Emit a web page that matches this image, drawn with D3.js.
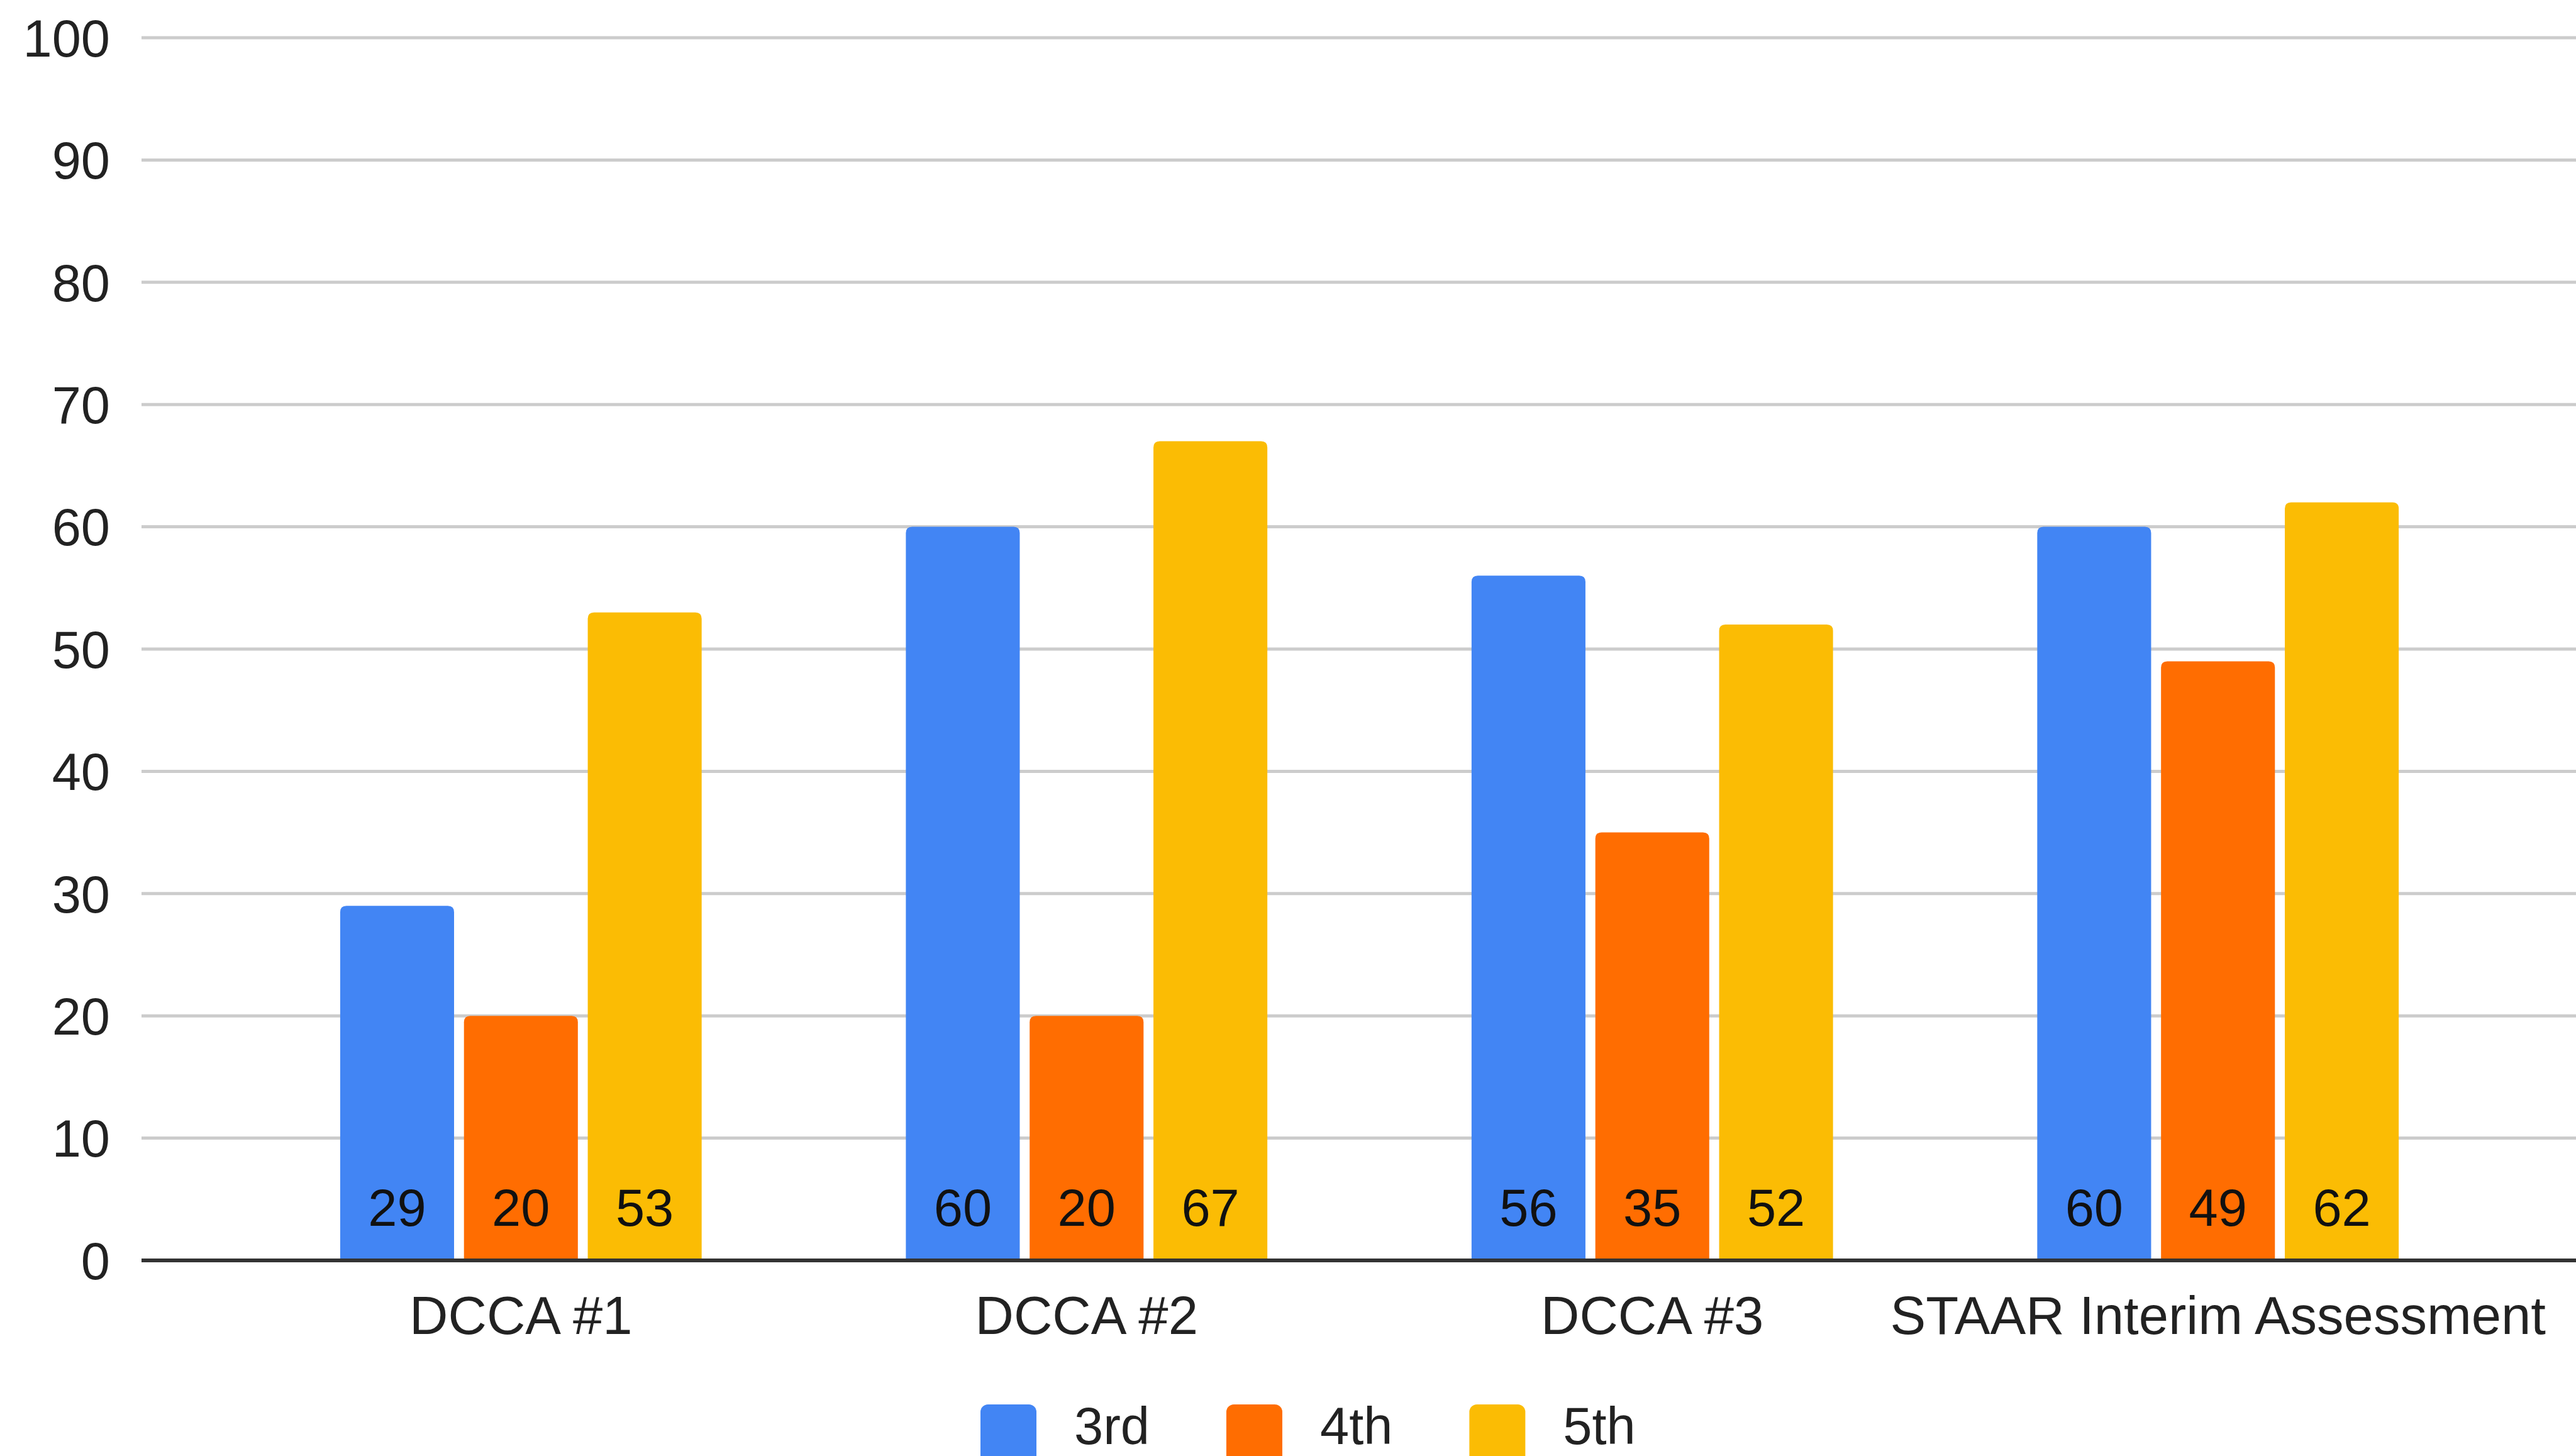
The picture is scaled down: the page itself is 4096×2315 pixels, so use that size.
<!DOCTYPE html>
<html>
<head>
<meta charset="utf-8">
<script src="https://cdn.jsdelivr.net/npm/d3@7"></script>
<style>
  html, body { margin: 0; padding: 0; background: #fff; }
  svg { display: block; }
  text { font-family: "Liberation Sans", Arial, sans-serif; fill: #222; }
</style>
</head>
<body>
<svg id="chart"></svg>
<script>
// Data
const assessments = ["DCCA #1", "DCCA #2", "DCCA #3", "STAAR Interim Assessment"];
const grades = ["3rd", "4th", "5th"];
const grade3 = [29, 60, 56, 60];
const grade4 = [20, 20, 35, 49];
const grade5 = [53, 67, 52, 62];
const yTicks = [0, 10, 20, 30, 40, 50, 60, 70, 80, 90, 100];
const gradeColors = ["#4285f4", "#ff6d01", "#fbbc04"];

const width = 4096;
const height = 2315;
const fontSize = 83;

const svg = d3.select('#chart')
    .attr('width', width)
    .attr('height', height);

const plotLeft = 225;
const plotRight = width;

const y = d3.scaleLinear()
    .domain([0, 100])
    .range([2004, 60]);

const x0 = d3.scaleBand()
    .domain(assessments)
    .range([379, 3976])
    .paddingInner(0.361)
    .paddingOuter(0.18);

const x1 = d3.scaleBand()
    .domain(grades)
    .range([0, x0.bandwidth()])
    .paddingInner(0.08)
    .paddingOuter(0);

const color = d3.scaleOrdinal().domain(grades).range(gradeColors);

const series = [grade3, grade4, grade5];
const rows = [];
assessments.forEach((a, i) => {
    grades.forEach((g, j) => {
        rows.push({ assessment: a, grade: g, value: series[j][i] });
    });
});

// Gridlines
svg.append('g')
    .selectAll('line')
    .data(yTicks.filter(d => d !== 0))
    .join('line')
    .attr('x1', plotLeft)
    .attr('x2', plotRight)
    .attr('y1', d => y(d))
    .attr('y2', d => y(d))
    .attr('stroke', '#cccccc')
    .attr('stroke-width', 5);

// Y tick labels
svg.append('g')
    .selectAll('text')
    .data(yTicks)
    .join('text')
    .attr('x', 175)
    .attr('y', d => y(d))
    .attr('dy', '0.36em')
    .attr('text-anchor', 'end')
    .style('font-size', fontSize + 'px')
    .text(d => d);

// Bars with rounded top corners
function barPath(x, yTop, w, h, r) {
    r = Math.min(r, w / 2, h);
    return `M${x},${yTop + h}V${yTop + r}Q${x},${yTop} ${x + r},${yTop}` +
        `H${x + w - r}Q${x + w},${yTop} ${x + w},${yTop + r}V${yTop + h}Z`;
}

svg.append('g')
    .selectAll('path')
    .data(rows)
    .join('path')
    .attr('fill', d => color(d.grade))
    .attr('d', d => {
        const bx = x0(d.assessment) + x1(d.grade);
        return barPath(bx, y(d.value), x1.bandwidth(), y(0) - y(d.value), 10);
    });

// Value labels at the bottom of each bar
svg.append('g')
    .selectAll('text')
    .data(rows)
    .join('text')
    .attr('x', d => x0(d.assessment) + x1(d.grade) + x1.bandwidth() / 2)
    .attr('y', 1949)
    .attr('text-anchor', 'middle')
    .style('font-size', fontSize + 'px')
    .style('fill', '#111')
    .text(d => d.value);

// Baseline
svg.append('line')
    .attr('x1', plotLeft)
    .attr('x2', plotRight)
    .attr('y1', y(0))
    .attr('y2', y(0))
    .attr('stroke', '#333')
    .attr('stroke-width', 6);

// Category labels
svg.append('g')
    .selectAll('text')
    .data(assessments)
    .join('text')
    .attr('x', d => x0(d) + x0.bandwidth() / 2)
    .attr('y', 2121)
    .attr('text-anchor', 'middle')
    .style('font-size', '85px')
    .text(d => d);

// Legend
const legend = svg.append('g');
let lx = 1559;
grades.forEach(g => {
    legend.append('rect')
        .attr('x', lx)
        .attr('y', 2233)
        .attr('width', 89)
        .attr('height', 100)
        .attr('rx', 12)
        .attr('fill', color(g));
    const t = legend.append('text')
        .attr('x', lx + 149)
        .attr('y', 2296)
        .style('font-size', fontSize + 'px')
        .text(g);
    lx = lx + 149 + t.node().getComputedTextLength() + 122;
});
</script>
</body>
</html>
